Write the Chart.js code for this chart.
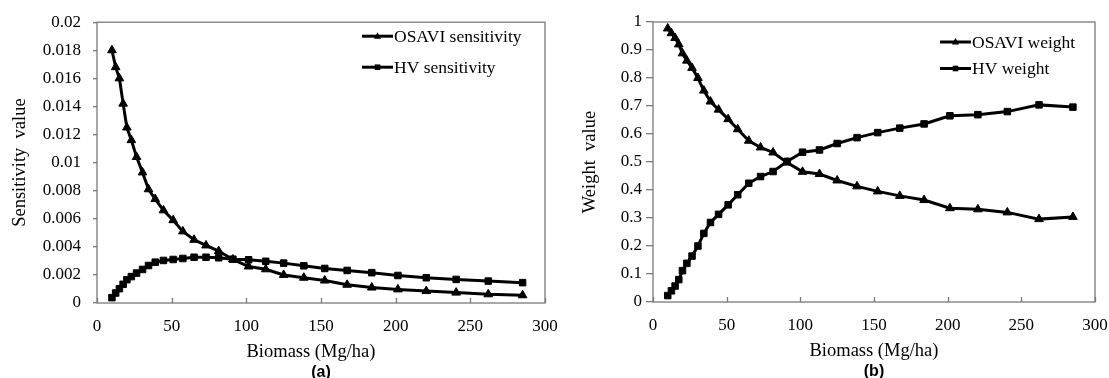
<!DOCTYPE html>
<html lang="en">
<head>
<meta charset="UTF-8">
<title>Sensitivity and weight vs biomass</title>
<script src="https://cdn.jsdelivr.net/npm/chart.js"></script>
<style>
  body { margin: 0; background: #fff; }
  .wrap { position: relative; width: 1109px; height: 378px; overflow: hidden; }
  #chartA { position: absolute; left: 0; top: 0; }
  #chartB { position: absolute; left: 570px; top: 0; }
</style>
</head>
<body>
<div class="wrap">
  <canvas id="chartA" width="575" height="378"></canvas>
  <canvas id="chartB" width="555" height="378"></canvas>
</div>
<script>
// values
const biomass = [10, 12.5, 15, 17.5, 20, 23, 26.5, 30.5, 34.5, 39, 44.5, 51, 57.5, 65, 73, 81.5, 91,
  101.5, 113, 125, 138.5, 152.5, 167.5, 184, 201.5, 220.5, 240.5, 262, 285];

const osaviSens = [0.0180, 0.0168, 0.0160, 0.0142, 0.0125, 0.0116, 0.0104, 0.0093, 0.0081, 0.0074,
  0.0066, 0.0059, 0.0051, 0.0045, 0.0041, 0.0037, 0.0031, 0.0026, 0.0024, 0.0020, 0.0018, 0.0016,
  0.0013, 0.0011, 0.00097, 0.00085, 0.00074, 0.00062, 0.00055];
const hvSens = [0.00038, 0.00071, 0.00102, 0.00133, 0.00166, 0.00188, 0.00213, 0.00239, 0.00267,
  0.00291, 0.00303, 0.0031, 0.00317, 0.00326, 0.00326, 0.00322, 0.00312, 0.00308, 0.00297, 0.00284,
  0.00265, 0.00246, 0.00232, 0.00216, 0.00196, 0.0018, 0.00168, 0.00156, 0.00145];

const osaviWeight = [0.977, 0.960, 0.943, 0.920, 0.888, 0.862, 0.836, 0.800, 0.755, 0.716, 0.687,
  0.653, 0.617, 0.576, 0.552, 0.534, 0.498, 0.465, 0.457, 0.434, 0.413, 0.395, 0.379, 0.364, 0.335,
  0.331, 0.320, 0.296, 0.304];
const hvWeight = [0.023, 0.040, 0.057, 0.080, 0.112, 0.138, 0.164, 0.200, 0.245, 0.284, 0.313,
  0.347, 0.383, 0.424, 0.448, 0.466, 0.502, 0.535, 0.543, 0.566, 0.587, 0.605, 0.621, 0.636, 0.665,
  0.669, 0.680, 0.704, 0.696];

const xRange = [0, 300, 50];
const sensRange = [0, 0.02, 0.002];
const weightRange = [0, 1, 0.1];
const xTitle = 'Biomass (Mg/ha)';

const FONT = 'Liberation Serif';
const AXIS = '#7a7a7a';

function pts(ys) {
  return biomass.map((x, i) => ({ x: x, y: ys[i] }));
}

function series(label, ys, style) {
  return {
    label: label,
    data: pts(ys),
    borderColor: '#000',
    backgroundColor: '#000',
    borderWidth: 3,
    pointStyle: style,
    pointRadius: style === 'triangle' ? 5 : 4.6,
    pointBorderWidth: 1,
    tension: 0
  };
}

function drawMarker(ctx, style, x, y) {
  ctx.beginPath();
  if (style === 'triangle') {
    ctx.moveTo(x, y - 4);
    ctx.lineTo(x + 3.6, y + 2.6);
    ctx.lineTo(x - 3.6, y + 2.6);
  } else {
    ctx.rect(x - 2.8, y - 2.8, 5.6, 5.6);
  }
  ctx.closePath();
  ctx.fill();
}

// frame, inward x ticks, x title, panel tag and line-with-marker legend
function decorations(cfg) {
  return {
    id: 'decorations',
    beforeDatasetsDraw(chart) {
      const { ctx, chartArea: a, scales: { x } } = chart;
      ctx.save();
      ctx.strokeStyle = AXIS;
      ctx.lineWidth = 1.3;
      ctx.strokeRect(a.left, a.top, a.right - a.left, a.bottom - a.top);
      x.ticks.forEach(t => {
        const px = Math.round(x.getPixelForValue(t.value)) + 0.5;
        ctx.beginPath();
        ctx.moveTo(px, a.bottom);
        ctx.lineTo(px, a.bottom - 5);
        ctx.stroke();
      });
      ctx.restore();
    },
    afterDraw(chart) {
      const { ctx, chartArea: a } = chart;
      const mid = (a.left + a.right) / 2;
      ctx.save();
      ctx.fillStyle = '#000';
      ctx.textAlign = 'center';
      ctx.textBaseline = 'middle';
      ctx.font = '18.5px "' + FONT + '"';
      ctx.fillText(xTitle, mid + cfg.titleDx, a.bottom + 49);
      ctx.font = 'bold 16px "Liberation Sans"';
      ctx.fillText(cfg.tag, mid, a.bottom + 70);

      ctx.font = '17.5px "' + FONT + '"';
      ctx.textAlign = 'left';
      chart.data.datasets.forEach((ds, i) => {
        const x0 = a.right - cfg.legendDx;
        const y = a.top + cfg.legendDy + i * cfg.rowGap;
        ctx.strokeStyle = '#000';
        ctx.lineWidth = 3;
        ctx.beginPath();
        ctx.moveTo(x0, y);
        ctx.lineTo(x0 + 31, y);
        ctx.stroke();
        drawMarker(ctx, ds.pointStyle, x0 + 15.5, y);
        ctx.fillText(ds.label, x0 + 32, y + 1);
      });
      ctx.restore();
    }
  };
}

function makeChart(id, cfg) {
  return new Chart(document.getElementById(id), {
    type: 'line',
    data: { datasets: cfg.datasets },
    options: {
      responsive: false,
      animation: false,
      devicePixelRatio: 1,
      layout: { padding: cfg.padding },
      plugins: {
        legend: { display: false },
        tooltip: { enabled: false }
      },
      scales: {
        x: {
          type: 'linear',
          min: xRange[0], max: xRange[1],
          afterFit(s) { s.height = 75; },
          ticks: { stepSize: xRange[2], color: '#000', padding: 13, font: { family: FONT, size: 17 } },
          grid: { display: false, drawTicks: false },
          border: { display: false }
        },
        y: {
          min: cfg.yRange[0], max: cfg.yRange[1],
          afterFit(s) { s.width = cfg.yWidth; },
          ticks: {
            stepSize: cfg.yRange[2], color: '#000', padding: cfg.tickPad,
            font: { family: FONT, size: 17 },
            callback: v => String(+v.toFixed(cfg.digits))
          },
          grid: { drawOnChartArea: false, drawTicks: true, tickLength: cfg.tickLen, color: AXIS, lineWidth: 1.3 },
          border: { display: false },
          title: {
            display: true, text: cfg.yTitle, color: '#000',
            font: { family: FONT, size: 18.5 }, padding: { top: 9, bottom: 0 }
          }
        }
      }
    },
    plugins: [decorations(cfg)]
  });
}

makeChart('chartA', {
  datasets: [series('OSAVI sensitivity', osaviSens, 'triangle'), series('HV sensitivity', hvSens, 'rect')],
  yRange: sensRange, digits: 3, yTitle: 'Sensitivity  value', tag: '(a)',
  yWidth: 97, tickPad: 12, tickLen: 4,
  padding: { left: 0, right: 30, top: 21, bottom: 0 },
  legendDx: 183, legendDy: 14, rowGap: 31, titleDx: -10
});

makeChart('chartB', {
  datasets: [series('OSAVI weight', osaviWeight, 'triangle'), series('HV weight', hvWeight, 'rect')],
  yRange: weightRange, digits: 1, yTitle: 'Weight  value', tag: '(b)',
  yWidth: 83, tickPad: 4, tickLen: 7,
  padding: { left: 0, right: 30, top: 22, bottom: 1 },
  legendDx: 155, legendDy: 20, rowGap: 26.5, titleDx: 0
});
</script>
</body>
</html>
